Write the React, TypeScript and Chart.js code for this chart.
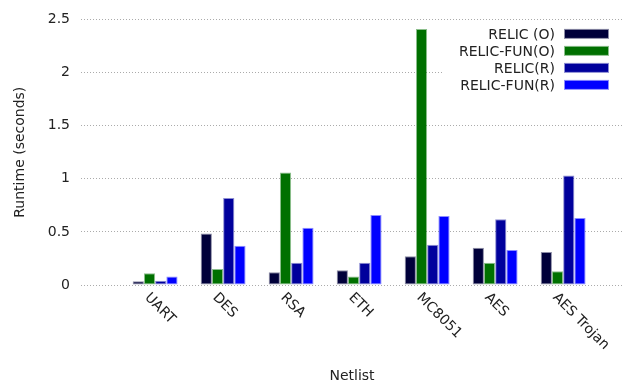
import React, { useEffect, useRef } from "react";
import { Chart, registerables } from "chart.js";

Chart.register(...registerables);

const categories = ["UART", "DES", "RSA", "ETH", "MC8051", "AES", "AES Trojan"];
const seriesLabels = ["RELIC (O)", "RELIC-FUN(O)", "RELIC(R)", "RELIC-FUN(R)"];
const relicO = [0.035, 0.485, 0.12, 0.14, 0.27, 0.35, 0.31];
const relicFunO = [0.11, 0.15, 1.06, 0.08, 2.41, 0.21, 0.13];
const relicR = [0.04, 0.82, 0.21, 0.21, 0.38, 0.62, 1.03];
const relicFunR = [0.08, 0.37, 0.54, 0.66, 0.65, 0.33, 0.63];
const yTicks = [0, 0.5, 1, 1.5, 2, 2.5];
const yTickLabels = ["0", "0.5", "1", "1.5", "2", "2.5"];

const seriesValues = [relicO, relicFunO, relicR, relicFunR];
const seriesColors = ["#00003a", "#007000", "#00009c", "#0000ff"];
const seriesBorders = [
  "rgba(0,0,58,0.45)",
  "rgba(0,112,0,0.45)",
  "rgba(0,0,156,0.45)",
  "rgba(0,0,255,0.45)",
];

const FONT = "'DejaVu Sans', sans-serif";
const TEXT = "#222222";

const xLabelPlugin = {
  id: "rotatedXLabels",
  afterDraw(chart: any) {
    const { ctx, chartArea } = chart;
    const xs = chart.scales.x;
    ctx.save();
    ctx.font = `14px ${FONT}`;
    ctx.fillStyle = TEXT;
    ctx.textAlign = "left";
    ctx.textBaseline = "alphabetic";
    categories.forEach((label, i) => {
      const px = xs.getPixelForValue(i);
      ctx.save();
      ctx.translate(px - 11, chartArea.bottom + 13);
      ctx.rotate(Math.PI / 4);
      ctx.fillText(label, 0, 0);
      ctx.restore();
    });
    ctx.restore();
  },
};

const legendPlugin = {
  id: "gnuLegend",
  afterDatasetsDraw(chart: any) {
    const { ctx, chartArea } = chart;
    const right = chartArea.right;
    const top = chartArea.top;
    ctx.save();
    ctx.fillStyle = "#ffffff";
    ctx.fillRect(right - 180, top + 3, 180, 71);
    ctx.font = `14px ${FONT}`;
    ctx.textAlign = "right";
    ctx.textBaseline = "alphabetic";
    seriesLabels.forEach((label, i) => {
      const cy = top + 14.5 + i * 17;
      ctx.fillStyle = TEXT;
      ctx.fillText(label, right - 68, cy + 5);
      ctx.fillStyle = seriesBorders[i];
      ctx.fillRect(right - 59, cy - 5, 45, 10);
      ctx.fillStyle = seriesColors[i];
      ctx.fillRect(right - 58, cy - 4, 43, 8);
    });
    ctx.restore();
  },
};

export default function App() {
  const ref = useRef<HTMLCanvasElement | null>(null);

  useEffect(() => {
    if (!ref.current) return;
    Chart.defaults.font.family = FONT;
    Chart.defaults.color = TEXT;
    const chart = new Chart(ref.current, {
      type: "bar",
      data: {
        datasets: seriesLabels.map((label, s) => ({
          label,
          data: seriesValues[s].map((v, i) => ({ x: i, y: v })),
          backgroundColor: seriesColors[s],
          borderColor: seriesBorders[s],
          borderWidth: 1,
          borderSkipped: false,
        })),
      },
      options: {
        responsive: false,
        animation: false,
        categoryPercentage: 0.66,
        barPercentage: 1,
        layout: { padding: { left: 0, right: 0, top: 14, bottom: 0 } },
        plugins: {
          legend: { display: false },
          tooltip: { enabled: false },
        },
        scales: {
          x: {
            type: "linear",
            min: -1.09,
            max: 6.88,
            offset: false,
            afterBuildTicks: (scale: any) => {
              scale.ticks = categories.map((_, i) => ({ value: i }));
            },
            grid: { display: false },
            border: { display: false },
            ticks: { display: false },
            title: {
              display: true,
              text: "Netlist",
              font: { size: 14, family: FONT, lineHeight: 1.2 },
              color: TEXT,
              padding: { top: 0, bottom: 1 },
            },
            afterFit: (scale: any) => {
              scale.height = 101;
            },
          },
          y: {
            min: 0,
            max: 2.5,
            afterBuildTicks: (scale: any) => {
              scale.ticks = yTicks.map((v) => ({ value: v }));
            },
            ticks: {
              padding: 11,
              font: { size: 14, family: FONT },
              color: TEXT,
              callback: (v: any) => {
                const idx = yTicks.indexOf(Number(v));
                return idx >= 0 ? yTickLabels[idx] : String(v);
              },
            },
            grid: {
              color: "#ababab",
              lineWidth: 1,
              drawTicks: false,
            },
            border: { display: false, dash: [1, 2] },
            title: {
              display: true,
              text: "Runtime (seconds)",
              font: { size: 14, family: FONT, lineHeight: 1.2 },
              color: TEXT,
              padding: { top: 11.6, bottom: 0 },
            },
            afterFit: (scale: any) => {
              scale.width = 81;
            },
          },
        },
      },
      plugins: [xLabelPlugin, legendPlugin],
    } as any);
    return () => chart.destroy();
  }, []);

  return (
    <div style={{ position: "absolute", left: 0, top: 0, width: 623, height: 386, background: "#fff" }}>
      <canvas ref={ref} width={623} height={386} style={{ display: "block", width: 623, height: 386 }} />
    </div>
  );
}
